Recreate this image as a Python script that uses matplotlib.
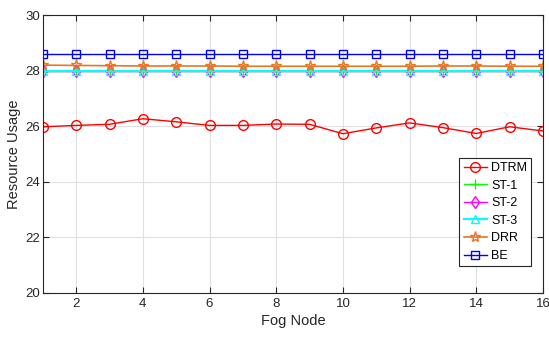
import matplotlib.pyplot as plt
import numpy as np

plt.rcParams['font.family'] = ['Liberation Sans', 'DejaVu Sans']

nodes = np.arange(1, 17)
dtrm = [25.98, 26.03, 26.07, 26.27, 26.16, 26.03, 26.03, 26.08,
        26.07, 25.73, 25.94, 26.12, 25.95, 25.74, 25.98, 25.83]
st1 = [28.0] * 16
st2 = [27.98] * 16
st3 = [28.0] * 16
drr = [28.2, 28.19, 28.18, 28.17, 28.17, 28.17, 28.16, 28.16,
       28.16, 28.16, 28.16, 28.16, 28.17, 28.17, 28.16, 28.16]
be = [28.6] * 16

fig = plt.figure(figsize=(5.49, 3.37), dpi=100)
ax = fig.add_axes([0.078, 0.131, 0.911, 0.824])

ax.plot(nodes, dtrm, '-o', color='#ff0000', lw=1, ms=7, mfc='none', mew=1, label='DTRM')
ax.plot(nodes, st1, '-+', color='#00ff00', lw=1, ms=7, mew=1, label='ST-1')
ax.plot(nodes, st2, '-d', color='#ff00ff', lw=1, ms=6, mfc='none', mew=1, label='ST-2')
ax.plot(nodes, st3, '-^', color='#00ffff', lw=1.5, ms=6, mfc='none', mew=1, label='ST-3')
ax.plot(nodes, drr, '-*', color='#e87722', lw=1.2, ms=8, mfc='none', mew=1, label='DRR')
ax.plot(nodes, be, '-s', color='#0000ff', lw=1, ms=5.5, mfc='none', mew=1, label='BE')

ax.set_xlim(1, 16)
ax.set_ylim(20, 30)
ax.set_xticks(np.arange(2, 17, 2))
ax.set_yticks(np.arange(20, 31, 2))
ax.grid(True, color='#e0e0e0', lw=0.8)
ax.set_axisbelow(True)
ax.tick_params(direction='in', length=4, labelsize=9.5, colors='#262626',
               top=True, right=True)
ax.tick_params(axis='y', pad=2)
for s in ax.spines.values():
    s.set_color('#262626')
ax.set_xlabel('Fog Node', fontsize=10.5, color='#262626', labelpad=3)
ax.set_ylabel('Resource Usage', fontsize=10.5, color='#262626', labelpad=3)

leg = ax.legend(loc='lower right', bbox_to_anchor=(0.977, 0.095), fontsize=9,
                fancybox=False, edgecolor='#262626', framealpha=1,
                handlelength=1.9, borderpad=0.35, labelspacing=0.45, handletextpad=0.3,
                borderaxespad=0)
leg.get_frame().set_linewidth(0.8)

fig.savefig('out.png', dpi=100)
